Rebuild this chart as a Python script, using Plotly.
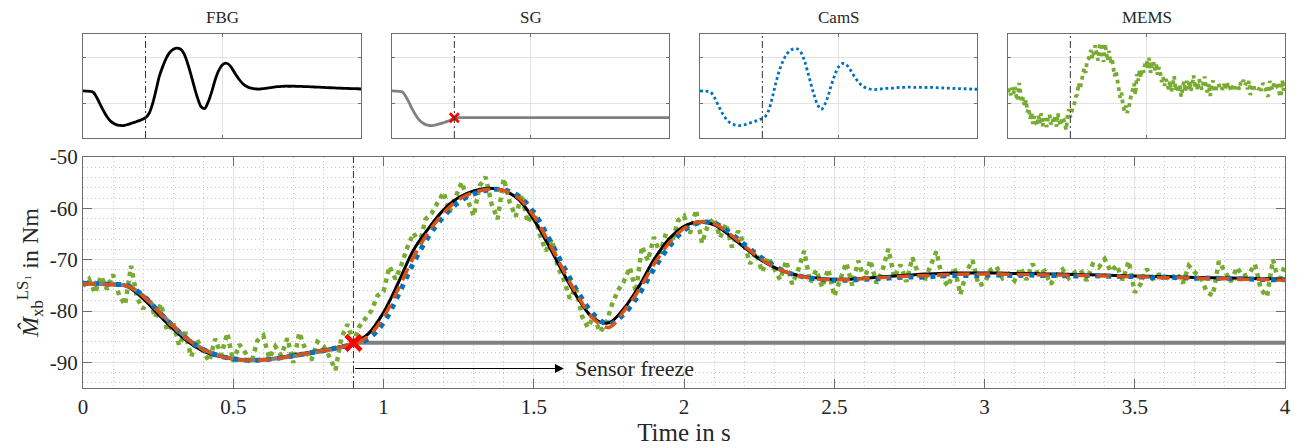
import numpy as np
import plotly.graph_objects as go

# ---------------- data ----------------
t_smooth = [round(0.05 * i, 2) for i in range(81)]

fbg = [-74.6, -74.7, -74.8, -75.3, -77.6, -80.6, -83.5, -86.0, -87.8, -88.8,
       -89.4, -89.6, -89.5, -89.1, -88.6, -88.1, -87.6, -87.0, -86.2, -84.4,
       -80.3, -74.4, -68.1, -63.9, -60.3, -57.9, -56.6, -56.1, -56.5, -58.3,
       -62.2, -67.3, -72.8, -77.8, -81.5, -82.3, -79.5, -75.2, -70.0, -66.0,
       -63.5, -62.6, -63.2, -65.2, -67.6, -69.8, -71.5, -72.6, -73.3, -73.6,
       -73.8, -73.8, -73.6, -73.4, -73.2, -73.0, -72.8, -72.7, -72.6, -72.6,
       -72.6, -72.6, -72.7, -72.7, -72.8, -72.8, -72.9, -72.95, -73.0, -73.1,
       -73.2, -73.25, -73.3, -73.4, -73.45, -73.5, -73.55, -73.6, -73.65, -73.7,
       -73.8]

cams = [-74.6, -74.7, -74.8, -75.1, -77.0, -80.0, -83.0, -85.6, -87.5, -88.7,
        -89.3, -89.6, -89.5, -89.2, -88.7, -88.2, -87.7, -87.1, -86.5, -85.4,
        -82.3, -76.8, -70.6, -65.5, -61.6, -58.8, -57.2, -56.4, -56.4, -57.6,
        -60.8, -65.8, -71.4, -76.6, -80.7, -82.6, -80.6, -76.8, -71.8, -67.5,
        -64.3, -62.8, -62.9, -64.6, -67.0, -69.3, -71.2, -72.6, -73.4, -73.8,
        -74.0, -74.0, -73.8, -73.7, -73.5, -73.4, -73.4, -73.2, -73.1, -73.1,
        -73.0, -73.0, -73.1, -73.0, -73.1, -73.1, -73.2, -73.1, -73.2, -73.3,
        -73.3, -73.5, -73.4, -73.5, -73.6, -73.6, -73.7, -73.7, -73.8, -73.9,
        -73.9]

estimate = [-74.7, -74.8, -74.9, -75.2, -77.1, -80.1, -83.0, -85.6, -87.5, -88.7,
            -89.3, -89.6, -89.5, -89.2, -88.7, -88.2, -87.7, -87.1, -86.4, -84.9,
            -81.2, -75.6, -69.5, -64.6, -60.9, -58.3, -56.9, -56.3, -56.5, -58.0,
            -61.5, -66.6, -72.2, -77.4, -81.6, -83.2, -80.0, -75.9, -70.9, -66.8,
            -63.9, -62.6, -63.0, -64.9, -67.3, -69.6, -71.4, -72.6, -73.4, -73.8,
            -73.9, -73.9, -73.7, -73.5, -73.4, -73.2, -73.1, -73.0, -72.9, -72.8,
            -72.8, -72.8, -72.9, -72.9, -73.0, -73.0, -73.1, -73.1, -73.2, -73.3,
            -73.3, -73.4, -73.5, -73.5, -73.6, -73.7, -73.7, -73.8, -73.8, -73.9,
            -74.0]

sg_t = [0.0, 0.05, 0.1, 0.15, 0.2, 0.25, 0.3, 0.35, 0.4, 0.45, 0.5, 0.55,
        0.6, 0.65, 0.7, 0.75, 0.8, 0.85, 0.9]
sg = [-74.6, -74.7, -74.8, -75.1, -77.0, -79.9, -82.9, -85.5, -87.4, -88.6,
      -89.3, -89.6, -89.5, -89.2, -88.8, -88.3, -87.8, -87.2, -86.2]
sg_frozen_t = [0.9, 4.0]
sg_frozen = [-86.2, -86.2]

freeze_t = [0.9]
freeze_val = [-86.2]

t_mems = [round(0.02 * i, 2) for i in range(201)]
mems = [
    -75.2, -73.8, -76.5, -73.2, -75.8, -72.9, -76.9, -78.8, -71.2, -77.5,
    -79.6, -77.4, -81.3, -78.6, -83.9, -82.2, -86.7, -84.1, -88.9, -85.6,
    -87.9, -89.8, -85.4, -88.6, -84.3, -89.9, -86.5, -88.1, -90.2, -85.8,
    -84.8, -89.2, -86.9, -88.7, -85.3, -90.1, -84.2, -87.5, -89.6, -86.0,
    -86.8, -88.9, -91.5, -85.2, -82.6, -86.0, -83.0, -81.4, -79.9, -77.0,
    -76.2, -71.3, -73.8, -70.9, -67.5, -64.8, -66.9, -62.1, -61.0, -58.9,
    -56.9, -60.7, -57.8, -54.9, -58.4, -61.5, -55.6, -53.9, -59.2, -62.1,
    -54.2, -58.8, -61.6, -57.3, -62.8, -60.4, -65.1, -68.3, -66.0, -71.4,
    -73.9, -77.6, -75.4, -80.9, -83.2, -81.0, -84.1, -82.6, -78.8, -76.0,
    -74.2, -71.5, -76.3, -67.4, -70.2, -65.6, -68.8, -64.9, -66.6, -62.4,
    -61.5, -64.9, -60.3, -66.8, -63.2, -61.9, -65.7, -63.0, -67.6, -64.4,
    -66.9, -70.8, -68.6, -72.4, -69.5, -71.6, -73.9, -70.2, -74.8, -72.0,
    -68.3, -74.5, -72.0, -75.4, -71.8, -77.1, -73.5, -70.6, -75.0, -70.2,
    -73.9, -70.1, -74.6, -72.2, -67.9, -73.5, -71.0, -74.3, -69.6, -72.8,
    -74.1, -71.3, -68.4, -73.8, -75.2, -71.5, -76.8, -72.3, -70.1, -75.0,
    -74.6, -72.0, -71.4, -73.6, -72.8, -74.1, -71.6, -73.9, -70.8, -73.0,
    -72.2, -74.8, -73.0, -71.9, -73.6, -72.5, -72.0, -74.1, -70.9, -71.5,
    -69.9, -72.3, -71.1, -74.0, -70.3, -76.4, -74.7, -71.8, -73.7, -72.9,
    -73.1, -74.0, -72.6, -74.6, -71.2, -72.5, -73.5, -76.3, -77.0, -70.3,
    -72.1, -74.3, -71.5, -73.2, -72.8, -70.9, -75.8, -77.2, -70.0, -74.5,
    -71.0]

y_ticks = [-90, -80, -70, -60, -50]
y_ticktext = ["-90", "-80", "-70", "-60", "-50"]
x_ticks = [0, 0.5, 1, 1.5, 2, 2.5, 3, 3.5, 4]
x_ticktext = ["0", "0.5", "1", "1.5", "2", "2.5", "3", "3.5", "4"]
panel_titles = ["FBG", "SG", "CamS", "MEMS"]
event_t = 0.9
arrow_end = 1.6
arrow_y = -91.2

# ---------------- styles ----------------
GREEN = "#77AC30"
BLUE = "#0072BD"
ORANGE = "#D95319"
GRAY = "#808080"
FONT = "Liberation Serif"
FRAME = "#6e6e6e"
TXT = "#262626"

# page body has an 8px margin: work in page pixels, convert to figure pixels
OFF = 8
W, H = 1309 - OFF, 448 - OFF
PL, PR, PT, PB = 83, 1285, 157, 388  # main plot box, page px
L = PL - OFF
T = 33 - OFF
R = W - (PR - OFF)
B = H - (PB - OFF)
pw = W - L - R
ph = H - T - B

fig = go.Figure()

# main plot traces
fig.add_trace(go.Scatter(x=t_mems, y=mems, mode="lines",
                         line=dict(color=GREEN, width=4.5, dash="4.5px,4.5px"),
                         xaxis="x", yaxis="y", showlegend=False))
fig.add_trace(go.Scatter(x=t_smooth, y=fbg, mode="lines",
                         line=dict(color="black", width=3, shape="spline"),
                         xaxis="x", yaxis="y", showlegend=False))
fig.add_trace(go.Scatter(x=sg_t, y=sg, mode="lines",
                         line=dict(color=GRAY, width=4, shape="spline"),
                         xaxis="x", yaxis="y", showlegend=False))
fig.add_trace(go.Scatter(x=sg_frozen_t, y=sg_frozen, mode="lines",
                         line=dict(color=GRAY, width=4),
                         xaxis="x", yaxis="y", showlegend=False))
fig.add_trace(go.Scatter(x=t_smooth, y=cams, mode="lines",
                         line=dict(color=BLUE, width=5, dash="5px,6px", shape="spline"),
                         xaxis="x", yaxis="y", showlegend=False))
fig.add_trace(go.Scatter(x=t_smooth, y=estimate, mode="lines",
                         line=dict(color=ORANGE, width=3.5, dash="13px,7px", shape="spline"),
                         xaxis="x", yaxis="y", showlegend=False))
fig.add_trace(go.Scatter(x=freeze_t, y=freeze_val, mode="markers",
                         marker=dict(symbol="x-thin", size=15,
                                     line=dict(color="#FF0000", width=4.5)),
                         xaxis="x", yaxis="y", showlegend=False))

# small panels
panel_series = [
    [(t_smooth, fbg, dict(color="black", width=2.8, shape="spline"))],
    [(sg_t, sg, dict(color=GRAY, width=2.8, shape="spline")),
     (sg_frozen_t, sg_frozen, dict(color=GRAY, width=2.8))],
    [(t_smooth, cams, dict(color=BLUE, width=2.8, dash="2.8px,2.8px", shape="spline"))],
    [(t_mems, mems, dict(color=GREEN, width=3.8, dash="3.8px,3.8px"))],
]
for i, series in enumerate(panel_series):
    xa = "x%d" % (i + 2)
    ya = "y%d" % (i + 2)
    for tx, ty, ln in series:
        fig.add_trace(go.Scatter(x=tx, y=ty, mode="lines", line=ln,
                                 xaxis=xa, yaxis=ya, showlegend=False))
    if i == 1:
        fig.add_trace(go.Scatter(x=freeze_t, y=freeze_val, mode="markers",
                                 marker=dict(symbol="x-thin", size=9,
                                             line=dict(color="#FF0000", width=2.8)),
                                 xaxis=xa, yaxis=ya, showlegend=False))


# ---------------- layout ----------------
def xd(a, b):
    return [(a - PL) / pw, (b - PL) / pw]


def yd(top, bot):
    return [(PB - bot) / ph, (PB - top) / ph]


axis_common = dict(showline=True, linecolor=FRAME, linewidth=1.3, mirror="ticks",
                   ticks="inside", tickcolor=FRAME, zeroline=False)

layout = dict(
    width=W, height=H,
    margin=dict(l=L, r=R, t=T, b=B, autoexpand=False),
    paper_bgcolor="white", plot_bgcolor="white",
    font=dict(family=FONT, color=TXT),
    xaxis=dict(domain=[0, 1], range=[0, 4], tickvals=x_ticks, ticktext=x_ticktext,
               ticklen=9, tickfont=dict(size=21, family=FONT, color=TXT),
               showgrid=True, gridcolor="#e3e3e3", gridwidth=1,
               minor=dict(dtick=0.1, showgrid=True, gridcolor="#c4c4c4",
                          griddash="1px,3px", gridwidth=1, ticks=""),
               title=dict(text="Time in s", font=dict(size=25, family=FONT, color=TXT),
                          standoff=5),
               anchor="y", **axis_common),
    yaxis=dict(domain=yd(PT, PB), range=[-95, -50], tickvals=y_ticks,
               ticktext=y_ticktext, ticklen=9,
               tickfont=dict(size=21, family=FONT, color=TXT),
               showgrid=True, gridcolor="#e3e3e3", gridwidth=1,
               minor=dict(dtick=2, tick0=-50, showgrid=True, gridcolor="#c4c4c4",
                          griddash="1px,3px", gridwidth=1, ticks=""),
               title=dict(text="<i>M̂</i><sub>xb</sub><sup>LS₁</sup> in Nm",
                          font=dict(size=24, family=FONT, color=TXT),
                          standoff=4),
               anchor="x", **axis_common),
)

panel_px = [(83, 361), (392, 669), (700, 977), (1008, 1285)]
annotations = []
for i, (a, b) in enumerate(panel_px):
    n = i + 2
    layout["xaxis%d" % n] = dict(domain=xd(a, b), range=[0, 4], tickvals=[2],
                                 showticklabels=False, ticklen=3,
                                 showgrid=True, gridcolor="#e3e3e3",
                                 anchor="y%d" % n, **axis_common)
    layout["yaxis%d" % n] = dict(domain=yd(34, 138), range=[-95, -50],
                                 tickvals=[-80, -60], showticklabels=False, ticklen=3,
                                 showgrid=True, gridcolor="#e3e3e3",
                                 anchor="x%d" % n, **axis_common)
    annotations.append(dict(text=panel_titles[i],
                            x=((a + b) / 2 - PL) / pw,
                            y=(PB - 17) / ph,
                            xref="paper", yref="paper", showarrow=False,
                            xanchor="center", yanchor="middle",
                            font=dict(size=17, family=FONT, color=TXT)))

# sensor freeze arrow + text
annotations.append(dict(x=arrow_end, y=arrow_y, ax=event_t, ay=arrow_y,
                        xref="x", yref="y", axref="x", ayref="y", text="",
                        showarrow=True, arrowhead=2, arrowsize=1.6, arrowwidth=1.1,
                        arrowcolor="black"))
annotations.append(dict(x=arrow_end + 0.03, y=arrow_y, xref="x", yref="y",
                        text="Sensor freeze", showarrow=False, xanchor="left",
                        font=dict(size=22, family=FONT, color=TXT)))
layout["annotations"] = annotations

shapes = []
for n in ["", "2", "3", "4", "5"]:
    shapes.append(dict(type="line", xref="x" + n, yref="y" + n + " domain",
                       x0=event_t, x1=event_t, y0=0, y1=1,
                       line=dict(color="#333333", width=1, dash="7px,3px,2px,3px")))
layout["shapes"] = shapes

fig.update_layout(**layout)
fig.write_html("out.html")
